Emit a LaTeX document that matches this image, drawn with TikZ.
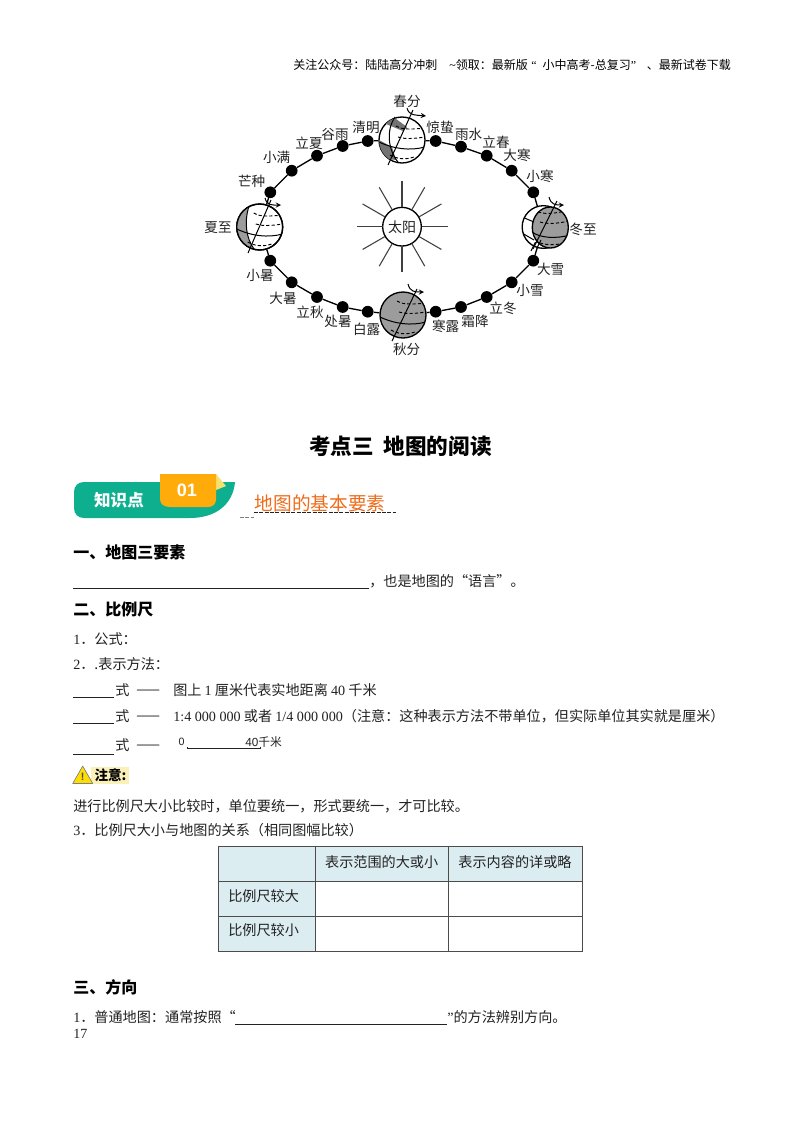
\documentclass[tikz,border=0pt]{standalone}
\usepackage{fontspec}
\setmainfont{Noto Sans CJK SC}
\newfontfamily\lat{Liberation Serif}
\newfontfamily\heil{Liberation Sans}
\usetikzlibrary{calc}
\definecolor{ink}{HTML}{222222}
\definecolor{banner}{HTML}{0DAF8F}
\definecolor{tabc}{HTML}{FFAC0A}
\definecolor{foldc}{HTML}{F6E070}
\definecolor{headc}{HTML}{EE6C1A}
\definecolor{cellc}{HTML}{DCEDF2}
\definecolor{globec}{HTML}{9C9C9C}
\definecolor{notec}{HTML}{FAF0B8}
\newcommand{\sz}[1]{\fontsize{#1}{#1}\selectfont}
\tikzset{
 x=0.75pt,y=-0.75pt,
 txt/.style={anchor=west,inner sep=0,text=ink,font=\sz{10.6}},
 sect/.style={anchor=west,inner sep=0,text=black,font=\sz{12}\bfseries},
 lab/.style={inner sep=0,text=ink,font=\sz{10.2}},
 hdr/.style={anchor=west,inner sep=0,text=black,font=\sz{9}},
 dot/.style={circle,fill=black,inner sep=0,minimum size=8.8pt},
 globe/.style={circle,draw=black,line width=1pt,fill=white,inner sep=0,minimum size=34.5pt},
 orbit/.style={line width=1pt,draw=black},
 ray/.style={line width=.8pt,draw=black!75},
 fine/.style={line width=.75pt,draw=black},
 fined/.style={line width=.7pt,draw=black,dash pattern=on 2.4pt off 1.6pt},
 rule/.style={line width=.65pt,draw=ink},
 cell/.style={line width=.75pt,draw=black!70},
 celltxt/.style={inner sep=0,text=ink,font=\sz{10.6}},
}
\newcommand{\globelines}[3]{% cx cy r
 \begin{scope}
 \clip (#1,#2) circle[radius=#3];
 \draw[fine] ($(#1,#2)+(-#3,2)$) .. controls ($(#1,#2)+(-8,9)$) and ($(#1,#2)+(8,11)$) .. ($(#1,#2)+(#3,7)$);
 \draw[fined] ($(#1,#2)+(-4,-3)$) .. controls ($(#1,#2)+(2,-1)$) and ($(#1,#2)+(10,-1)$) .. ($(#1,#2)+(#3,-3)$);
 \draw[fined] ($(#1,#2)+(-6,-14)$) .. controls ($(#1,#2)+(-2,-11)$) and ($(#1,#2)+(6,-10)$) .. ($(#1,#2)+(#3,-12)$);
 \draw[fined] ($(#1,#2)+(-12,15)$) .. controls ($(#1,#2)+(-5,19)$) and ($(#1,#2)+(3,20)$) .. ($(#1,#2)+(12,17)$);
 \end{scope}
}
\begin{document}
\begin{tikzpicture}
\useasboundingbox (0,0) rectangle (800,1132);
\fill[white] (0,0) rectangle (800,1132);

\node[hdr] (hdr) at (293,65) {关注公众号：陆陆高分冲刺\hspace{1em}{\lat\char`\~}领取：最新版\hspace{.3em}{\lat “}\hspace{.5em}小中高考-总复习{\lat ”}\hspace{.9em}、最新试卷下载};

% orbit dots
\foreach \n/\x/\y in {d1/367.7/141,d2/342.7/146,d3/317/155.7,d4/291.7/170.7,d5/270.3/192.3,
 d6/270.3/260.7,d7/291.7/282.3,d8/317/297,d9/342.7/307,d10/367.7/311.7,
 d11/435.7/311.7,d12/461/307,d13/486.7/297,d14/511.7/282.3,d15/533.3/260.7,
 d16/533.3/192.3,d17/511.7/170.7,d18/486.7/155.7,d19/461/146.7,d20/435.7/141}
 \node[dot] (\n) at (\x,\y) {};

% globes
\node[globe] (spring) at (402,140) {};
\node[globe] (summer) at (259.7,227) {};
\node[globe,minimum size=32pt] (winterw) at (543.5,227) {};
\node[globe,fill=globec] (autumn) at (403,315) {};

% orbit connectors
\draw[orbit] (d1)--(d2) (d2)--(d3) (d3)--(d4) (d4)--(d5)
 (d6)--(d7) (d7)--(d8) (d8)--(d9) (d9)--(d10)
 (d11)--(d12) (d12)--(d13) (d13)--(d14) (d14)--(d15)
 (d16)--(d17) (d17)--(d18) (d18)--(d19) (d19)--(d20)
 (d1)--(spring) (spring)--(d20) (d5)--(summer) (summer)--(d6)
 (d16)--(winterw) (winterw)--(d15) (d10)--(autumn) (autumn)--(d11);

% spring globe detail
\begin{scope}
 \clip (402,140) circle[radius=23];
 \fill[black!55] (382,119) -- (392,116) -- (407,127) -- (403,131) -- (386,124) --cycle;
 \fill[black!55] (379,140) -- (392,147) -- (396,160) -- (388,159) -- (379,150) --cycle;
\end{scope}
\globelines{402}{140}{23}
\draw[fine] (395,117) .. controls (386,130) and (388,150) .. (398,162);
\draw[fine] (388,165) -- (413,110);
\draw[fine,->,>=stealth] (407,108) .. controls (409,116) and (416,115) .. (426,116);
% summer globe
\begin{scope}
 \clip (259.7,227) circle[radius=23];
 \fill[globec] (236,204) -- (249,204) .. controls (244,222) and (246,238) .. (254,251) -- (236,251) --cycle;
\end{scope}
\draw[fine] (249,206) .. controls (244,222) and (246,238) .. (254,249);
\globelines{259.7}{227}{23}
\draw[line width=1pt,draw=black] (summer.center) circle[radius=23];
\draw[fine] (248,253) -- (271,200);
\draw[fine,->,>=stealth] (265,198) .. controls (267,206) and (273,205) .. (281,205);
% winter globe
\begin{scope}
 \clip (543.5,227) circle[radius=21.5];
 \draw[fine] (522,217) -- (534,222) (522,233) -- (534,240);
\end{scope}
\path[fill=globec,draw=black,line width=1pt] (550.3,227.5) ellipse[x radius=18,y radius=20.5];
\begin{scope}
 \clip (550.3,227.5) ellipse[x radius=18,y radius=20.5];
 \draw[fine] (532,232) .. controls (540,238) and (556,239) .. (570,235);
 \draw[fined] (540,222) .. controls (546,224) and (556,224) .. (569,221);
 \draw[fined] (538,212) .. controls (544,214) and (552,214) .. (566,211);
 \draw[fined] (540,243) .. controls (546,245) and (552,245) .. (560,244);
\end{scope}
\draw[fine] (533,249) -- (557,201);
\draw[fine] (531,251) -- (535.5,242) (537,248) -- (541,240);
\draw[fine,->,>=stealth] (549,197) .. controls (551,205) and (556,205) .. (564,205);
% autumn globe
\globelines{403}{315}{23}
\draw[fine] (392,341) -- (417,289);
\draw[fine,->,>=stealth] (408,284) .. controls (410,292) and (415,292) .. (424,292);

% sun
\node[circle,draw=black,line width=1pt,fill=white,inner sep=0,minimum size=29pt,text=ink,font=\sz{10.5}] (sun) at (402,226.7) {太阳};
\foreach \a in {0,30,...,330}
 \draw[ray] (sun) ++(\a:19.5) -- ++(\a:26);

% term labels
\node[lab] (t1) at (407,101) {春分};
\node[lab] (t2) at (440,127.5) {惊蛰};
\node[lab] (t3) at (468.7,134) {雨水};
\node[lab] (t4) at (496,142) {立春};
\node[lab] (t5) at (517,155.7) {大寒};
\node[lab] (t6) at (540,176) {小寒};
\node[lab] (t7) at (583,229) {冬至};
\node[lab] (t8) at (550.7,269) {大雪};
\node[lab] (t9) at (530,290) {小雪};
\node[lab] (t10) at (503,308) {立冬};
\node[lab] (t11) at (475,321.7) {霜降};
\node[lab] (t12) at (445.7,326.7) {寒露};
\node[lab] (t13) at (406.7,349) {秋分};
\node[lab] (t14) at (366.7,329) {白露};
\node[lab] (t15) at (338,321) {处暑};
\node[lab] (t16) at (310,312) {立秋};
\node[lab] (t17) at (283,298) {大暑};
\node[lab] (t18) at (260,275) {小暑};
\node[lab] (t19) at (218,227.7) {夏至};
\node[lab] (t20) at (251.7,181.7) {芒种};
\node[lab] (t21) at (276.7,157.7) {小满};
\node[lab] (t22) at (309,143) {立夏};
\node[lab] (t23) at (335,134) {谷雨};
\node[lab] (t24) at (366,127) {清明};

% title
\node[anchor=center,inner sep=0,text=black,font=\sz{16.2}\bfseries] (title) at (400.5,446) {考点三\hspace{.45em}地图的阅读};

% banner
\fill[banner] (84,482) -- (235,482) .. controls (233,505) and (215,518) .. (190,518) -- (84,518)
 .. controls (78,518) and (74,514) .. (74,508) -- (74,492) .. controls (74,486) and (78,482) .. (84,482) --cycle;
\fill[foldc] (216,474) -- (226,486) -- (216,490) --cycle;
\fill[tabc] (160,474) -- (216,474) -- (216,499) .. controls (216,504) and (213,507) .. (208,507) -- (170,507)
 .. controls (164,507) and (160,504) .. (160,499) --cycle;
\node[inner sep=0,text=white,font=\sz{12.4}\bfseries] (zsd) at (119,500.5) {知识点};
\node[inner sep=0,text=white,font=\heil\sz{13.5}\bfseries] (n01) at (187,490) {01};
\node[anchor=west,inner sep=0,text=headc,font=\sz{14}] (head) at (254.5,503) {地图的基本要素};
\coordinate (da) at (254,512.5); \coordinate (db) at (396,512.5);
\coordinate (dc) at (240,517.5); \coordinate (dd) at (254,517.5);
\draw[line width=.6pt,draw=ink,dash pattern=on 3pt off 1pt] (da) -- (db);
\draw[line width=.6pt,draw=gray,dash pattern=on 3pt off 1pt] (dc) -- (dd);

% section 1
\node[sect] (s1) at (73,552) {一、地图三要素};
\coordinate (u1a) at (73,588); \coordinate (u1b) at (369,588);
\draw[rule] (u1a) -- (u1b);
\node[txt] (s1t) at (369,581) {，也是地图的“语言”。};

% section 2
\node[sect] (s2) at (73,609) {二、比例尺};
\node[txt] (l1) at (73,639) {{\lat 1}．公式：};
\node[txt] (l2) at (73,664) {{\lat 2}．.表示方法：};

\foreach \yu/\yt/\k in {697/690/a,723/716/b,754/745/c}{
 \coordinate (r\k a) at (73,\yu); \coordinate (r\k b) at (114,\yu);
 \draw[rule] (r\k a) -- (r\k b);
 \node[txt] (f\k) at (115,\yt) {式};
 \node[txt] (g\k) at (136,\yt+2.5) {——};
}
\node[txt] (ra) at (173,690) {图上 {\lat 1} 厘米代表实地距离 {\lat 40} 千米};
\node[txt] (rb) at (173,716) {{\lat 1:4 000 000} 或者 {\lat 1/4 000 000}（注意：这种表示方法不带单位，但实际单位其实就是厘米）};
\node[inner sep=0,text=ink,font=\heil\sz{8}] (z0) at (181.5,742) {0};
\node[anchor=west,inner sep=0,text=ink,font=\sz{8.8}] (z40) at (245,742.5) {{\heil 40}千米};
\coordinate (sa) at (187,748.5); \coordinate (sb) at (260,748.5);
\draw[line width=.6pt,draw=ink] (sa) -- (sb);
\draw[line width=.6pt,draw=ink] (sa) -- ++(0,-2) (sb) -- ++(0,-2);

% caution
\fill[notec] (91,767) rectangle (128.5,784);
\fill[yellow!80!orange,draw=gray,line width=.5pt,line join=round] (82.7,766) -- (92.7,783.5) -- (72.7,783.5) --cycle;
\node[inner sep=0,text=black!70,font=\heil\sz{8}\bfseries] (warn) at (82.7,777) {!};
\node[inner sep=0,text=black,font=\sz{10.2}\bfseries] (zy) at (110.5,775.5) {注意:};

\node[txt] (n1) at (73,806) {进行比例尺大小比较时，单位要统一，形式要统一，才可比较。};
\node[txt] (n2) at (73,830) {{\lat 3}．比例尺大小与地图的关系（相同图幅比较）};

% table
\fill[cellc] (218,846) rectangle (582,881);
\fill[cellc] (218,881) rectangle (315,951);
\draw[cell] (218,846) rectangle (582,951);
\draw[cell] (315,846) -- (315,951) (448,846) -- (448,951) (218,881) -- (582,881) (218,916) -- (582,916);
\node[celltxt] (c1) at (381.7,861.7) {表示范围的大或小};
\node[celltxt] (c2) at (515,861.7) {表示内容的详或略};
\node[celltxt,anchor=west] (c3) at (228,896) {比例尺较大};
\node[celltxt,anchor=west] (c4) at (228,930.5) {比例尺较小};

% section 3
\node[sect] (s3) at (73,987) {三、方向};
\node[txt] (d1t) at (73,1017) {{\lat 1}．普通地图：通常按照“};
\coordinate (u3a) at (235,1024); \coordinate (u3b) at (447,1024);
\draw[rule] (u3a) -- (u3b);
\node[txt] (d2t) at (447,1017) {{\lat ”}的方法辨别方向。};
\node[txt,font=\lat\sz{10.5}] (pg) at (73,1034) {17};
\end{tikzpicture}
\end{document}
